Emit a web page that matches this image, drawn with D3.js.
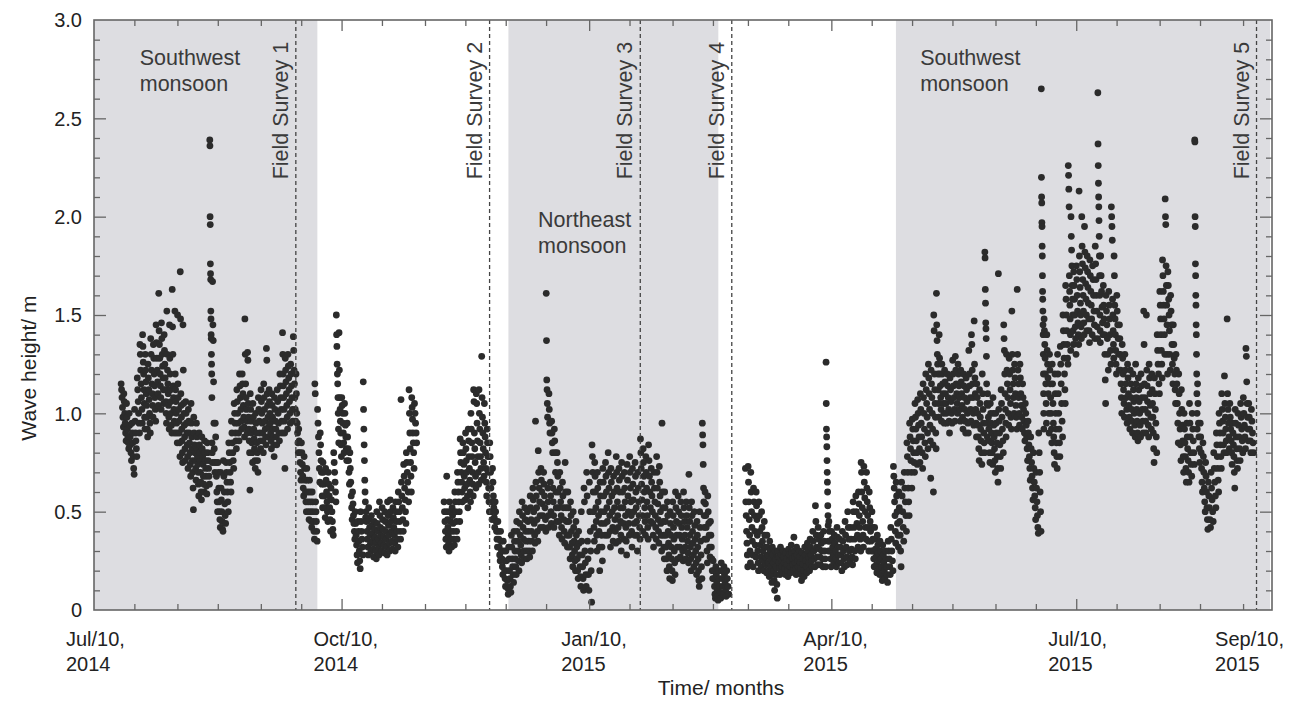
<!DOCTYPE html>
<html><head><meta charset="utf-8">
<script src="https://cdn.jsdelivr.net/npm/d3@7"></script>
<style>
html,body{margin:0;padding:0;background:#fff;}
svg{display:block;font-family:"Liberation Sans",Arial,Helvetica,sans-serif;}
</style></head><body>
<svg id="chart" width="1306" height="701"></svg>
<script>
// Each row: [day offset from Jul 10 2014, wave heights (m) observed that day ...]
const startDate = new Date(2014, 6, 10);
const endDate = new Date(2015, 8, 20, 18);

const waves2014 = [
[10,1.15,1.12,1.08,1.03,0.98,0.93],[11,1.1,1.06,1.0,0.95,0.9,0.86],[12,1.05,0.98,0.92,0.88,0.85,0.82],
[13,1.0,0.94,0.88,0.84,0.8,0.76],[14,0.95,0.9,0.85,0.78,0.72,0.69],[15,1.02,0.96,0.9,0.86,0.82,0.78],
[16,1.18,1.12,1.06,1.0,0.95,0.9],[17,1.35,1.3,1.22,1.15,1.08,1.02,0.95],[18,1.4,1.34,1.26,1.2,1.12,1.05,0.98,0.92],
[19,1.3,1.22,1.16,1.1,1.04,0.98,0.92,0.88],[20,1.25,1.18,1.12,1.07,1.0,0.95,0.9],[21,1.38,1.3,1.22,1.15,1.1,1.04,0.98],
[22,1.35,1.28,1.2,1.14,1.08,1.02,0.96],[23,1.45,1.36,1.28,1.22,1.16,1.1,1.04],[24,1.61,1.42,1.35,1.28,1.2,1.14,1.08,1.02],
[25,1.46,1.38,1.3,1.24,1.18,1.12,1.05],[26,1.4,1.32,1.25,1.18,1.12,1.06,1.0,0.95],[27,1.52,1.3,1.22,1.15,1.1,1.04,0.98,0.92],
[28,1.45,1.28,1.2,1.12,1.06,1.0,0.94,0.9],[29,1.63,1.44,1.3,1.14,1.08,1.02,0.96,0.9],[30,1.52,1.2,1.12,1.06,1.0,0.95,0.9,0.85],
[31,1.5,1.15,1.08,1.02,0.96,0.9,0.85,0.78],[32,1.72,1.48,1.1,1.04,0.98,0.92,0.86,0.8,0.75],[33,1.45,1.22,1.05,1.0,0.94,0.88,0.82,0.76],
[34,1.06,1.0,0.95,0.9,0.84,0.78,0.72],[35,1.02,0.96,0.9,0.85,0.8,0.74,0.68],[36,1.05,0.95,0.88,0.82,0.76,0.7,0.62,0.51],
[37,0.98,0.9,0.84,0.8,0.76,0.72,0.66],[38,0.95,0.88,0.82,0.78,0.74,0.7,0.64,0.58],[39,0.9,0.84,0.8,0.76,0.7,0.65,0.6,0.56],
[40,0.88,0.82,0.78,0.74,0.68,0.64,0.6],[41,0.86,0.8,0.76,0.72,0.68,0.63,0.59],[42,0.85,0.8,0.76,0.72,0.68,0.64],
[43,2.39,2.36,2.0,1.96,1.76,1.71,1.68,1.52,1.48,1.4,1.38,1.3,1.25,1.2,1.08,0.85,0.8,0.75],
[44,1.67,1.45,1.37,1.16,0.95,0.82,0.75,0.7],[45,0.95,0.88,0.75,0.68,0.6,0.55,0.5],[46,0.75,0.7,0.62,0.55,0.5,0.46,0.42],
[47,0.7,0.62,0.56,0.5,0.45,0.41,0.4],[48,0.76,0.68,0.6,0.54,0.48,0.44],[49,0.75,0.7,0.65,0.6,0.55,0.5],
[50,0.85,0.8,0.75,0.7,0.65,0.6],[51,0.96,0.9,0.85,0.8,0.76,0.72],[52,1.05,1.0,0.95,0.9,0.86,0.82],
[53,1.12,1.06,1.0,0.95,0.9,0.86],[54,1.2,1.14,1.08,1.02,0.96,0.92],[55,1.2,1.15,1.1,1.04,0.98,0.93,0.88],
[56,1.48,1.3,1.15,1.08,1.02,0.96,0.9],[57,1.31,1.27,1.05,0.98,0.92,0.86,0.8,0.61],[58,1.1,1.02,0.96,0.9,0.85,0.8,0.75],
[59,1.05,0.98,0.92,0.87,0.82,0.76,0.72],[60,1.0,0.95,0.9,0.85,0.8,0.76,0.7],[61,1.08,1.02,0.96,0.9,0.86,0.82],
[62,1.12,1.06,1.0,0.95,0.9,0.86,0.8],[63,1.15,1.08,1.02,0.96,0.92,0.88,0.84],[64,1.33,1.27,1.1,1.04,0.98,0.93,0.88],
[65,1.12,1.06,1.0,0.95,0.9,0.86,0.82],[66,1.1,1.04,0.98,0.92,0.88,0.84,0.78],[67,1.08,1.02,0.96,0.92,0.88,0.84],
[68,1.12,1.06,1.0,0.95,0.9,0.86],[69,1.2,1.14,1.08,1.02,0.96,0.9],[70,1.41,1.3,1.2,1.14,1.08,1.02,0.96,0.9,0.72],
[71,1.28,1.22,1.16,1.1,1.04,0.98,0.92],[72,1.3,1.24,1.18,1.12,1.06,1.0,0.95],[73,1.25,1.2,1.14,1.08,1.02,0.96],
[74,1.39,1.32,1.22,1.15,1.08,1.02,0.96],[75,1.2,1.1,1.0,0.95,0.9,0.85,0.8],[76,0.92,0.86,0.8,0.75,0.7,0.66],
[77,0.85,0.8,0.74,0.68,0.62,0.58],[78,0.78,0.72,0.66,0.6,0.55,0.5],[79,0.72,0.66,0.6,0.55,0.5,0.46],
[80,0.66,0.6,0.55,0.5,0.45,0.42],[81,0.6,0.55,0.5,0.45,0.4,0.36],[82,1.15,1.1,0.55,0.5,0.45,0.4,0.35],
[83,1.02,0.95,0.88,0.8,0.72,0.65],[84,0.9,0.84,0.76,0.7,0.64,0.58,0.52],[85,0.75,0.7,0.64,0.58,0.52,0.47],
[86,0.72,0.66,0.6,0.55,0.5,0.45],[87,0.7,0.64,0.58,0.52,0.46,0.4],[88,0.62,0.56,0.5,0.45,0.41,0.38],
[89,0.8,0.75,0.7,0.65,0.6,0.55],[90,1.5,1.4,1.34,1.25,1.2,1.15,1.08,1.0,0.92,0.85],[91,1.41,1.22,1.08,1.02,0.96,0.9,0.84,0.78],
[92,1.08,1.04,1.0,0.95,0.9,0.85,0.8],[93,1.05,1.0,0.94,0.88,0.82,0.76],[94,0.95,0.88,0.82,0.76,0.7,0.64],
[95,0.8,0.72,0.65,0.58,0.52,0.46],[96,0.6,0.54,0.48,0.44,0.4,0.36],[97,0.5,0.44,0.38,0.33,0.28,0.24],
[98,0.45,0.4,0.35,0.3,0.25,0.21],[99,0.5,0.45,0.4,0.36,0.32,0.28],[100,1.16,1.02,0.92,0.84,0.76,0.66,0.6,0.55,0.47],
[101,0.5,0.45,0.4,0.36,0.32,0.28],[102,0.52,0.46,0.42,0.38,0.34,0.3],[103,0.48,0.43,0.39,0.35,0.31,0.27],
[104,0.45,0.41,0.37,0.34,0.3,0.26],[105,0.5,0.44,0.4,0.36,0.32,0.28],[106,0.55,0.48,0.42,0.38,0.34,0.3],
[107,0.52,0.46,0.41,0.37,0.33,0.29],[108,0.5,0.45,0.4,0.36,0.32,0.28],[109,0.55,0.48,0.43,0.38,0.34,0.3],
[110,0.56,0.5,0.45,0.4,0.35,0.31],[111,0.52,0.47,0.42,0.38,0.34,0.3],[112,0.55,0.5,0.45,0.4,0.36,0.32],
[113,0.6,0.55,0.5,0.45,0.4,0.36],[114,1.07,0.65,0.58,0.52,0.46,0.4],[115,0.74,0.68,0.62,0.56,0.5,0.44],
[116,0.8,0.75,0.7,0.65,0.6,0.55],[117,1.12,1.0,0.9,0.82,0.75,0.68,0.6],[118,1.08,1.03,0.97,0.9,0.85,0.8,0.72],
[119,1.05,1.0,0.95,0.9,0.85]
];

const wavesWinter = [
[130,0.55,0.5,0.45,0.4,0.36,0.32],[131,0.68,0.5,0.46,0.42,0.38,0.34,0.3],[132,0.55,0.5,0.45,0.4,0.36,0.32],
[133,0.52,0.48,0.44,0.4,0.36,0.33],[134,0.6,0.55,0.5,0.45,0.4,0.36],[135,0.7,0.65,0.6,0.55,0.5,0.45],
[136,0.87,0.8,0.75,0.7,0.65,0.6,0.55],[137,0.85,0.8,0.74,0.68,0.62,0.56],[138,0.9,0.82,0.76,0.7,0.64,0.58,0.52],
[139,0.92,0.86,0.78,0.72,0.66,0.6,0.55],[140,1.0,0.92,0.85,0.78,0.7,0.64,0.58],[141,1.12,1.06,0.9,0.82,0.75,0.68,0.62],
[142,1.1,1.05,0.95,0.86,0.78,0.7,0.64],[143,1.12,1.0,0.92,0.85,0.78,0.72,0.66],[144,1.29,1.08,0.98,0.9,0.82,0.75,0.68],
[145,1.05,0.95,0.88,0.8,0.72,0.65,0.58],[146,0.92,0.85,0.78,0.7,0.62,0.55,0.5],[147,0.85,0.78,0.7,0.62,0.55,0.5,0.46],
[148,0.72,0.65,0.58,0.52,0.47,0.42],[149,0.55,0.5,0.45,0.4,0.36,0.32],[150,0.45,0.4,0.36,0.32,0.28,0.25],
[151,0.4,0.35,0.3,0.26,0.22,0.18],[152,0.35,0.3,0.25,0.2,0.16,0.12],[153,0.3,0.25,0.2,0.15,0.11,0.08],
[154,0.32,0.26,0.2,0.16,0.12,0.09],[155,0.38,0.32,0.26,0.22,0.18,0.14],[156,0.4,0.35,0.3,0.26,0.22,0.18],
[157,0.45,0.4,0.35,0.3,0.25,0.2],[158,0.5,0.44,0.38,0.33,0.28,0.24],[159,0.55,0.48,0.42,0.36,0.3,0.26],
[160,0.52,0.46,0.4,0.35,0.3,0.26],[161,0.5,0.45,0.4,0.35,0.3,0.27],[162,0.58,0.52,0.46,0.4,0.35,0.3],
[163,0.62,0.56,0.5,0.44,0.38,0.34],[164,0.96,0.65,0.58,0.52,0.46,0.4,0.35],[165,0.81,0.7,0.62,0.55,0.48,0.42],
[166,0.72,0.66,0.6,0.54,0.48,0.42],[167,0.7,0.64,0.58,0.52,0.46,0.4],
[168,1.61,1.37,1.17,1.12,1.05,0.98,0.62,0.55,0.48,0.42],[169,1.1,1.02,0.95,0.9,0.65,0.58,0.5,0.44],
[170,0.96,0.9,0.85,0.8,0.62,0.55,0.48,0.42],[171,0.92,0.86,0.8,0.7,0.6,0.52,0.45],[172,0.8,0.75,0.68,0.6,0.52,0.45,0.38],
[173,0.7,0.62,0.55,0.48,0.42,0.36],[174,0.65,0.58,0.52,0.46,0.4,0.34],[175,0.75,0.6,0.52,0.45,0.38,0.32],
[176,0.6,0.52,0.45,0.38,0.32,0.26],[177,0.55,0.48,0.4,0.34,0.28,0.22],[178,0.5,0.42,0.35,0.3,0.25,0.2],
[179,0.45,0.38,0.32,0.26,0.2,0.16],[180,0.4,0.34,0.28,0.22,0.17,0.12],[181,0.5,0.35,0.28,0.22,0.16,0.1],
[182,0.62,0.55,0.3,0.24,0.18,0.12],[183,0.7,0.58,0.35,0.26,0.18,0.1],[184,0.65,0.5,0.4,0.3,0.2,0.04],
[185,0.84,0.78,0.7,0.6,0.5,0.42,0.35],[186,0.75,0.68,0.6,0.52,0.45,0.38,0.3],[187,0.7,0.62,0.55,0.48,0.4,0.32,0.2],
[188,0.65,0.58,0.5,0.44,0.38,0.32,0.25],[189,0.72,0.65,0.58,0.5,0.44,0.38],[190,0.75,0.68,0.6,0.52,0.45,0.38],
[191,0.8,0.7,0.62,0.55,0.48,0.4,0.32],[192,0.72,0.65,0.58,0.5,0.42,0.35],[193,0.68,0.6,0.52,0.46,0.4,0.34],
[194,0.78,0.7,0.62,0.55,0.48,0.42,0.35],[195,0.72,0.66,0.6,0.52,0.45,0.38,0.3],[196,0.75,0.68,0.6,0.52,0.44,0.36],
[197,0.7,0.62,0.55,0.48,0.42,0.35,0.28],[198,0.74,0.66,0.58,0.5,0.44,0.38],[199,0.78,0.7,0.62,0.55,0.48,0.4,0.32],
[200,0.72,0.64,0.56,0.5,0.44,0.38],[201,0.75,0.68,0.6,0.52,0.45,0.38,0.3],[202,0.7,0.62,0.55,0.48,0.42,0.36],
[203,0.87,0.8,0.72,0.64,0.56,0.48,0.4],[204,0.82,0.75,0.68,0.6,0.52,0.45,0.38],[205,0.78,0.7,0.62,0.55,0.48,0.42,0.36],
[206,0.84,0.76,0.68,0.6,0.52,0.45],[207,0.72,0.65,0.58,0.5,0.44,0.38,0.32],[208,0.7,0.62,0.55,0.48,0.42,0.36],
[209,0.78,0.7,0.62,0.54,0.46,0.4,0.34],[210,0.73,0.65,0.58,0.5,0.44,0.38,0.3],[211,0.95,0.6,0.52,0.45,0.38,0.32,0.26],
[212,0.6,0.52,0.45,0.38,0.32,0.26,0.2],[213,0.55,0.48,0.4,0.34,0.28,0.22,0.16],[214,0.5,0.44,0.38,0.32,0.26,0.2,0.15],
[215,0.55,0.48,0.42,0.36,0.3,0.24,0.18],[216,0.6,0.52,0.45,0.38,0.32,0.26],[217,0.58,0.5,0.44,0.38,0.32,0.27],
[218,0.55,0.48,0.42,0.36,0.3,0.25],[219,0.6,0.52,0.45,0.38,0.32,0.26],[220,0.55,0.48,0.42,0.35,0.29,0.24],
[221,0.69,0.52,0.45,0.38,0.32,0.26,0.2],[222,0.55,0.48,0.4,0.34,0.28,0.22],[223,0.5,0.43,0.36,0.3,0.24,0.18],
[224,0.45,0.38,0.32,0.26,0.2,0.15,0.12],[225,0.5,0.42,0.35,0.28,0.22,0.16],
[226,0.95,0.89,0.84,0.74,0.62,0.55,0.48,0.42,0.36],[227,0.6,0.54,0.48,0.42,0.36,0.3,0.24],
[228,0.58,0.5,0.44,0.38,0.32,0.27],[229,0.45,0.38,0.32,0.26,0.2,0.16],[230,0.25,0.2,0.16,0.12,0.08,0.06],
[231,0.22,0.18,0.14,0.1,0.07,0.05],[232,0.2,0.16,0.12,0.09,0.06],[233,0.24,0.2,0.16,0.12,0.08],
[234,0.22,0.18,0.14,0.1,0.07],[235,0.2,0.16,0.12,0.08]
];

const waves2015 = [
[242,0.72,0.55,0.48,0.4,0.34,0.28,0.22],[243,0.73,0.65,0.55,0.46,0.38,0.3,0.24],[244,0.7,0.6,0.5,0.42,0.35,0.28,0.22],
[245,0.62,0.55,0.48,0.4,0.33,0.27],[246,0.6,0.53,0.46,0.38,0.3,0.24,0.2],[247,0.55,0.48,0.4,0.33,0.27,0.22],
[248,0.5,0.42,0.35,0.3,0.25,0.2],[249,0.45,0.38,0.32,0.27,0.23,0.19],[250,0.38,0.32,0.28,0.24,0.2,0.17],
[251,0.35,0.3,0.26,0.22,0.18,0.14],[252,0.32,0.28,0.24,0.2,0.15,0.1],[253,0.3,0.26,0.22,0.18,0.13,0.06],
[254,0.3,0.27,0.24,0.21,0.18],[255,0.32,0.28,0.25,0.22,0.19],[256,0.3,0.27,0.24,0.21,0.18],
[257,0.29,0.26,0.23,0.2,0.17],[258,0.31,0.28,0.25,0.22,0.19],[259,0.33,0.29,0.26,0.23,0.2],
[260,0.37,0.3,0.27,0.24,0.21,0.18],[261,0.32,0.28,0.25,0.22,0.19],[262,0.3,0.27,0.24,0.21,0.18,0.15],
[263,0.29,0.26,0.23,0.2,0.17],[264,0.32,0.28,0.25,0.22,0.19],[265,0.34,0.3,0.27,0.24,0.2],
[266,0.36,0.32,0.28,0.25,0.22],[267,0.4,0.35,0.3,0.26,0.22],[268,0.53,0.45,0.38,0.32,0.27,0.23],
[269,0.42,0.36,0.31,0.27,0.23],[270,0.38,0.34,0.3,0.26,0.22],[271,0.4,0.35,0.3,0.26,0.22],
[272,1.26,1.05,0.92,0.88,0.83,0.76,0.7,0.65,0.6,0.53,0.48,0.43,0.35,0.3],
[273,0.45,0.4,0.35,0.3,0.26,0.22],[274,0.4,0.36,0.32,0.28,0.24],[275,0.38,0.34,0.3,0.26,0.22],
[276,0.42,0.37,0.32,0.28,0.24],[277,0.36,0.32,0.28,0.24,0.2],[278,0.4,0.35,0.3,0.26,0.22],
[279,0.45,0.38,0.32,0.27,0.23],[280,0.5,0.42,0.36,0.3,0.25],[281,0.42,0.36,0.31,0.27,0.23],
[282,0.55,0.5,0.42,0.36,0.3,0.26],[283,0.58,0.5,0.44,0.38,0.32],[284,0.6,0.54,0.48,0.42,0.36,0.3],
[285,0.75,0.7,0.6,0.52,0.45,0.38,0.32],[286,0.73,0.65,0.57,0.5,0.42,0.36],[287,0.7,0.62,0.55,0.48,0.42,0.35,0.3],
[288,0.6,0.52,0.45,0.4,0.35,0.3],[289,0.5,0.42,0.36,0.3,0.26,0.22],[290,0.42,0.36,0.31,0.27,0.23,0.19],
[291,0.38,0.33,0.29,0.25,0.21,0.18],[292,0.35,0.3,0.26,0.22,0.18,0.15],[293,0.33,0.28,0.24,0.2,0.16],
[294,0.3,0.26,0.22,0.18,0.14],[295,0.35,0.3,0.26,0.22,0.18],[296,0.42,0.36,0.3,0.25,0.2],
[297,0.73,0.68,0.62,0.55,0.48,0.4,0.34],[298,0.65,0.58,0.5,0.44,0.38,0.32],[299,0.6,0.52,0.45,0.38,0.3,0.22],
[300,0.65,0.58,0.5,0.42,0.35],[301,0.7,0.62,0.55,0.48,0.4],[302,0.85,0.78,0.7,0.62,0.55,0.48],
[303,0.95,0.88,0.82,0.76,0.7,0.62],[304,0.97,0.92,0.86,0.8,0.75,0.7],[305,1.05,0.98,0.92,0.86,0.8,0.74],
[306,1.07,1.0,0.94,0.88,0.82,0.75],[307,1.1,1.02,0.95,0.88,0.8,0.72],[308,1.15,1.08,1.0,0.92,0.85,0.78],
[309,1.2,1.12,1.05,0.98,0.9,0.82],[310,1.25,1.18,1.1,1.02,0.94,0.86,0.67],[311,1.22,1.15,1.08,1.0,0.92,0.84,0.6],
[312,1.5,1.42,1.2,1.12,1.05,0.98,0.9,0.82],[313,1.61,1.45,1.37,1.3,1.25,1.2,1.12,1.05,0.98],
[314,1.4,1.28,1.2,1.14,1.08,1.02,0.96],[315,1.25,1.2,1.15,1.1,1.05,1.0,0.95],[316,1.22,1.16,1.1,1.05,1.0,0.95],
[317,1.2,1.14,1.08,1.02,0.96,0.9],[318,1.18,1.12,1.06,1.0,0.95],[319,1.27,1.2,1.14,1.08,1.02,0.96],
[320,1.29,1.22,1.15,1.1,1.05,1.0],[321,1.25,1.2,1.14,1.08,1.02,0.96],[322,1.22,1.16,1.1,1.04,0.98,0.92],
[323,1.2,1.14,1.08,1.02,0.96,0.9],[324,1.18,1.12,1.06,1.0,0.95,0.9],[325,1.32,1.2,1.14,1.08,1.02,0.96],
[326,1.4,1.35,1.22,1.15,1.08,1.0,0.94],[327,1.47,1.25,1.18,1.1,1.02,0.95,0.88],[328,1.15,1.08,1.0,0.94,0.88,0.82,0.76],
[329,1.12,1.05,0.98,0.92,0.86,0.8,0.74],[330,1.2,1.1,1.02,0.95,0.9,0.85,0.8],
[331,1.82,1.79,1.63,1.56,1.46,1.43,1.38,1.29,1.15,1.05,0.95,0.88],
[332,1.1,1.04,0.98,0.92,0.86,0.8,0.75],[333,1.05,1.0,0.95,0.9,0.85,0.8,0.74],[334,1.08,1.0,0.94,0.88,0.82,0.76,0.7],
[335,1.0,0.95,0.9,0.85,0.78,0.72,0.65],[336,1.71,1.02,0.96,0.9,0.84,0.78,0.72],[337,1.12,1.05,0.98,0.92,0.86,0.8],
[338,1.45,1.38,1.32,1.2,1.1,1.02,0.95,0.88],[339,1.3,1.22,1.15,1.08,1.0,0.94],[340,1.28,1.2,1.12,1.05,0.98,0.92],
[341,1.52,1.3,1.22,1.15,1.08,1.0],[342,1.25,1.18,1.1,1.04,0.98,0.92],[343,1.63,1.3,1.22,1.15,1.08,1.0,0.94],
[344,1.25,1.18,1.1,1.04,0.98,0.92],[345,1.15,1.08,1.02,0.96,0.9,0.86],[346,1.05,1.0,0.94,0.88,0.82,0.76],
[347,0.96,0.9,0.84,0.78,0.72,0.66],[348,0.88,0.82,0.75,0.68,0.62,0.56],[349,0.8,0.72,0.65,0.58,0.52,0.46],
[350,0.7,0.62,0.55,0.48,0.42,0.39],[351,0.9,0.8,0.7,0.6,0.5,0.4],
[352,2.65,2.2,2.1,2.07,1.97,1.95,1.85,1.8,1.7,1.62,1.58,1.52,1.45,1.4,1.3,1.2,1.1,1.0,0.92],
[353,1.48,1.42,1.35,1.28,1.2,1.15,1.05,0.95],[354,1.4,1.32,1.25,1.18,1.1,1.0,0.9],[355,1.3,1.22,1.15,1.08,1.0,0.92,0.85],
[356,1.25,1.15,1.05,0.95,0.88,0.8,0.74],[357,1.2,1.1,1.0,0.92,0.85,0.78,0.72],[358,1.3,1.2,1.1,1.0,0.92,0.85,0.78],
[359,1.34,1.25,1.15,1.05,0.96,0.88],[360,1.5,1.42,1.35,1.28,1.2,1.12,1.05],[361,1.65,1.58,1.5,1.42,1.35,1.28,1.25],
[362,2.26,2.21,2.14,2.05,1.7,1.62,1.55,1.48,1.4,1.32],[363,2.0,1.9,1.83,1.75,1.65,1.58,1.5,1.42,1.35],
[364,1.72,1.65,1.58,1.5,1.44,1.38,1.3],[365,1.75,1.68,1.6,1.52,1.46,1.4,1.35],[366,2.13,1.8,1.72,1.64,1.56,1.5,1.44,1.38],
[367,2.0,1.85,1.76,1.68,1.6,1.52,1.46,1.4],[368,1.95,1.82,1.74,1.66,1.58,1.5,1.42],[369,1.8,1.72,1.64,1.56,1.48,1.42,1.36],
[370,1.78,1.7,1.62,1.55,1.48,1.4],[371,1.75,1.68,1.6,1.52,1.45,1.38],[372,1.85,1.76,1.68,1.6,1.52,1.44,1.38],
[373,2.63,2.37,2.26,2.17,2.1,2.05,1.98,1.9,1.8,1.7,1.6,1.5,1.42,1.36],
[374,1.8,1.7,1.62,1.54,1.46,1.4],[375,1.65,1.55,1.48,1.4,1.3,1.17,1.05],[376,1.6,1.52,1.45,1.38,1.3,1.22],
[377,1.62,1.55,1.48,1.4,1.32,1.25],[378,2.05,2.0,1.95,1.88,1.58,1.5,1.42,1.35,1.28],[379,1.8,1.7,1.55,1.48,1.4,1.32,1.25,1.2],
[380,1.6,1.52,1.45,1.38,1.3,1.22],[381,1.45,1.38,1.3,1.22,1.15,1.08,1.0],[382,1.35,1.28,1.2,1.12,1.05,0.98],
[383,1.3,1.22,1.15,1.08,1.02,0.95],[384,1.25,1.18,1.1,1.04,0.98,0.92],[385,1.22,1.15,1.08,1.02,0.96,0.9],
[386,1.2,1.12,1.06,1.0,0.94,0.88],[387,1.25,1.15,1.08,1.02,0.96,0.9,0.86],[388,1.18,1.12,1.06,1.0,0.94,0.88],
[389,1.2,1.14,1.08,1.02,0.96,0.9],[390,1.52,1.35,1.15,1.08,1.02,0.96,0.9],[391,1.5,1.22,1.14,1.06,1.0,0.94,0.88],
[392,1.25,1.18,1.1,1.04,0.98,0.92],[393,1.2,1.12,1.05,0.98,0.9,0.82,0.75],[394,1.18,1.1,1.02,0.95,0.88,0.8],
[395,1.4,1.32,1.25,1.2,1.15,1.1],[396,1.62,1.55,1.48,1.4,1.32,1.25,1.18],[397,1.78,1.7,1.62,1.55,1.48,1.4,1.3],
[398,2.09,2.0,1.96,1.75,1.65,1.55,1.45,1.3,1.2],[399,1.72,1.65,1.58,1.5,1.42,1.3,1.22],[400,1.6,1.52,1.45,1.35,1.25,1.15],
[401,1.45,1.35,1.28,1.2,1.12,1.05],[402,1.3,1.22,1.15,1.05,0.95,0.85],[403,1.2,1.1,1.0,0.92,0.84,0.76],
[404,1.12,1.02,0.94,0.86,0.78,0.7],[405,1.0,0.92,0.85,0.78,0.72,0.65],[406,0.95,0.88,0.82,0.76,0.7,0.65],
[407,1.05,0.95,0.88,0.8,0.74,0.68],[408,1.0,0.92,0.86,0.8,0.74],
[409,2.39,2.38,2.0,1.95,1.76,1.7,1.6,1.55,1.45,1.4,1.3,1.2,1.1,1.0,0.92],
[410,1.15,1.05,0.95,0.88,0.82,0.75],[411,0.95,0.88,0.8,0.72,0.65,0.6],[412,0.85,0.78,0.7,0.62,0.55,0.5],
[413,0.75,0.68,0.6,0.52,0.46,0.41],[414,0.65,0.58,0.52,0.46,0.42],[415,0.7,0.62,0.56,0.5,0.45],
[416,0.8,0.72,0.65,0.58,0.52],[417,0.9,0.84,0.78,0.72,0.66,0.6],[418,1.0,0.95,0.9,0.84,0.78,0.72],
[419,1.1,1.02,0.96,0.9,0.84,0.8],[420,1.19,1.05,0.98,0.92,0.86,0.8],[421,1.48,1.1,1.02,0.95,0.88,0.82],
[422,1.05,0.98,0.92,0.86,0.8,0.74],[423,0.95,0.9,0.84,0.78,0.7,0.62],[424,1.02,0.95,0.88,0.82,0.76,0.72],
[425,1.0,0.94,0.88,0.82,0.76],[426,1.05,0.98,0.92,0.86,0.8],[427,1.08,1.0,0.94,0.88,0.82],
[428,1.33,1.29,1.16,1.05,0.98,0.92,0.86],[429,1.05,0.98,0.92,0.86,0.8],[430,1.02,0.96,0.9,0.85,0.8]
];

const monsoonBands = [["2014-07-10","2014-10-01"],["2014-12-11","2015-02-27"],["2015-05-04","2015-09-20"]];
const monsoonLabels = [
  {lines:["Southwest","monsoon"], date:"2014-07-27", level:2.77},
  {lines:["Northeast","monsoon"], date:"2014-12-22", level:1.95},
  {lines:["Southwest","monsoon"], date:"2015-05-13", level:2.77}
];
const fieldSurveys = [
  {label:"Field Survey 1", date:"2014-09-23"},
  {label:"Field Survey 2", date:"2014-12-04"},
  {label:"Field Survey 3", date:"2015-01-29"},
  {label:"Field Survey 4", date:"2015-03-04"},
  {label:"Field Survey 5", date:"2015-09-15"}
];
const xMajorTicks = ["2014-10-10","2015-01-10","2015-04-10","2015-07-10"];
const xTickLabels = [
  {date:"2014-07-10", lines:["Jul/10,","2014"]},
  {date:"2014-10-10", lines:["Oct/10,","2014"]},
  {date:"2015-01-10", lines:["Jan/10,","2015"]},
  {date:"2015-04-10", lines:["Apr/10,","2015"]},
  {date:"2015-07-10", lines:["Jul/10,","2015"]},
  {date:"2015-09-10", lines:["Sep/10,","2015"]}
];
const yTickValues = [0,0.5,1.0,1.5,2.0,2.5,3.0];
const yTickLabels = ["0","0.5","1.0","1.5","2.0","2.5","3.0"];

const parse = d3.timeParse("%Y-%m-%d");
const svg = d3.select("#chart");
const M = {l:94, r:1272, t:20, b:610};
const x = d3.scaleTime().domain([startDate, endDate]).range([M.l, M.r]);
const y = d3.scaleLinear().domain([0, 3]).range([M.b, M.t]);

// shaded monsoon bands
svg.append("g").selectAll("rect").data(monsoonBands).join("rect")
  .attr("x", d => x(parse(d[0])))
  .attr("y", M.t)
  .attr("width", d => Math.min(x(parse(d[1])), M.r) - x(parse(d[0])))
  .attr("height", M.b - M.t)
  .attr("fill", "#dddde1");

// points
const DAY = 86400000;
const pts = [];
[waves2014, wavesWinter, waves2015].forEach(seg => seg.forEach(row => {
  const n = row.length - 1;
  for (let k = 0; k < n; k++) {
    pts.push({t: new Date(startDate.getTime() + (row[0] + (k + 0.5) / n) * DAY), v: row[k + 1]});
  }
}));
svg.append("g").selectAll("circle").data(pts).join("circle")
  .attr("cx", d => x(d.t)).attr("cy", d => y(d.v)).attr("r", 3.4)
  .attr("fill", "#2b2b2b");

// field survey dashed lines
const fs = svg.append("g");
fs.selectAll("line").data(fieldSurveys).join("line")
  .attr("x1", d => x(parse(d.date))).attr("x2", d => x(parse(d.date)))
  .attr("y1", M.t).attr("y2", M.b)
  .attr("stroke", "#444").attr("stroke-width", 1.3).attr("stroke-dasharray", "4,3");
fs.selectAll("text").data(fieldSurveys).join("text")
  .attr("transform", d => `translate(${x(parse(d.date)) - 8},${y(2.19)}) rotate(-90)`)
  .attr("font-size", 21.5).attr("fill", "#3a3a3a").text(d => d.label);

// monsoon labels
monsoonLabels.forEach(m => {
  const t = svg.append("text").attr("x", x(parse(m.date))).attr("y", y(m.level))
    .attr("font-size", 21.5).attr("fill", "#3a3a3a");
  m.lines.forEach((s, i) => t.append("tspan").attr("x", x(parse(m.date))).attr("dy", i ? 26 : 0).text(s));
});

// axes (ticks inward)
const axisG = svg.append("g").attr("class", "axes");
const months = d3.timeMonth.range(new Date(2014, 6, 1), new Date(2015, 9, 1));
const majorSet = new Set(xMajorTicks);
const fmt = d3.timeFormat("%Y-%m-%d");
const minorX = months.flatMap(m => [new Date(m.getFullYear(), m.getMonth(), 10), new Date(m.getFullYear(), m.getMonth(), 25)])
  .filter(d => d > startDate && d < endDate && !majorSet.has(fmt(d)));
const majorX = xMajorTicks.map(parse);
const minorY = d3.range(1, 30).map(i => i / 10).filter(v => Math.round(v * 10) % 5 !== 0);
const majorY = yTickValues.filter(v => v > 0 && v < 3);

function styleAxis(g) {
  g.select(".domain").remove();
  g.selectAll(".tick line").attr("stroke", "#666").attr("stroke-width", 1.3);
  g.selectAll(".tick text").remove();
}
axisG.append("g").attr("transform", `translate(0,${M.b})`).call(d3.axisBottom(x).tickValues(minorX).tickSize(-6)).call(styleAxis);
axisG.append("g").attr("transform", `translate(0,${M.b})`).call(d3.axisBottom(x).tickValues(majorX).tickSize(-11)).call(styleAxis);
axisG.append("g").attr("transform", `translate(0,${M.t})`).call(d3.axisTop(x).tickValues(minorX).tickSize(-6)).call(styleAxis);
axisG.append("g").attr("transform", `translate(0,${M.t})`).call(d3.axisTop(x).tickValues(majorX).tickSize(-11)).call(styleAxis);
axisG.append("g").attr("transform", `translate(${M.l},0)`).call(d3.axisLeft(y).tickValues(minorY).tickSize(-6)).call(styleAxis);
axisG.append("g").attr("transform", `translate(${M.l},0)`).call(d3.axisLeft(y).tickValues(majorY).tickSize(-12)).call(styleAxis);
axisG.append("g").attr("transform", `translate(${M.r},0)`).call(d3.axisRight(y).tickValues(minorY).tickSize(-6)).call(styleAxis);
axisG.append("g").attr("transform", `translate(${M.r},0)`).call(d3.axisRight(y).tickValues(majorY).tickSize(-12)).call(styleAxis);

// frame
svg.append("rect").attr("x", M.l).attr("y", M.t).attr("width", M.r - M.l).attr("height", M.b - M.t)
  .attr("fill", "none").attr("stroke", "#666").attr("stroke-width", 1.6);

// y tick labels
svg.append("g").selectAll("text").data(yTickValues).join("text")
  .attr("x", 82).attr("y", d => y(d)).attr("dy", "0.36em").attr("text-anchor", "end")
  .attr("font-size", 20).attr("fill", "#222").text((d, i) => yTickLabels[i]);

// x tick labels
xTickLabels.forEach(l => {
  const px = x(parse(l.date)) - 28;
  const t = svg.append("text").attr("font-size", 20).attr("fill", "#222");
  l.lines.forEach((s, i) => t.append("tspan").attr("x", px).attr("y", 646 + i * 24.5).text(s));
});

// axis titles
svg.append("text").attr("x", (M.l + M.r) / 2 + 38).attr("y", 695).attr("text-anchor", "middle")
  .attr("font-size", 21).attr("fill", "#222").text("Time/ months");
svg.append("text").attr("transform", `translate(36,${y(1.23)}) rotate(-90)`).attr("text-anchor", "middle")
  .attr("font-size", 21).attr("fill", "#222").text("Wave height/ m");
</script>
</body></html>
